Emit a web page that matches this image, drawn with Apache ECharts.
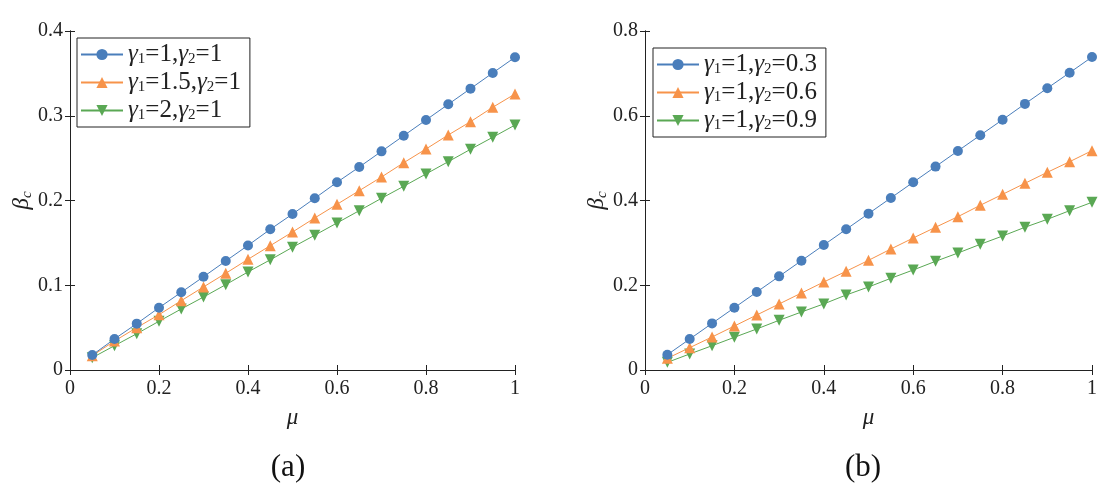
<!DOCTYPE html>
<html><head><meta charset="utf-8">
<script src="https://cdn.jsdelivr.net/npm/echarts@6/dist/echarts.min.js"></script>
<style>html,body{margin:0;padding:0;background:#fff}#c{width:1114px;height:504px}</style>
</head><body><div id="c"></div>
<script>
const mu = [0.05,0.10,0.15,0.20,0.25,0.30,0.35,0.40,0.45,0.50,0.55,0.60,0.65,0.70,0.75,0.80,0.85,0.90,0.95,1.00];
// panel (a)
const a_g1_1 = [0.0177,0.0366,0.0547,0.0735,0.0917,0.110,0.1286,0.147,0.166,0.184,0.2026,0.2215,0.2395,0.258,0.2765,0.295,0.3135,0.332,0.3505,0.369];
const a_g1_15 = [0.0169,0.0342,0.050,0.0653,0.0818,0.098,0.1141,0.1306,0.1467,0.1628,0.1794,0.1955,0.2116,0.2277,0.2446,0.2608,0.2773,0.293,0.310,0.3257];
const a_g1_2 = [0.0145,0.0287,0.0428,0.0575,0.072,0.0861,0.1007,0.1157,0.130,0.1448,0.159,0.1735,0.188,0.2026,0.2168,0.2313,0.2458,0.2604,0.2746,0.289];
// panel (b)
const b_g2_03 = [0.036,0.073,0.110,0.147,0.184,0.221,0.258,0.295,0.332,0.369,0.406,0.443,0.480,0.517,0.554,0.5907,0.628,0.665,0.7016,0.7386];
const b_g2_06 = [0.0276,0.0527,0.0779,0.1038,0.1298,0.1558,0.1817,0.2077,0.233,0.2588,0.2855,0.3115,0.3368,0.3618,0.3887,0.4146,0.4406,0.4665,0.4916,0.5176];
const b_g2_09 = [0.018,0.0378,0.0573,0.0772,0.0968,0.1173,0.1369,0.156,0.177,0.1959,0.2164,0.236,0.2565,0.276,0.2966,0.3162,0.3368,0.3556,0.376,0.3957];
const xTicks = ['0','0.2','0.4','0.6','0.8','1'];
const legendA = [['1','1'],['1.5','1'],['2','1']];
const legendB = [['1','0.3'],['1','0.6'],['1','0.9']];
const captions = ['(a)','(b)'];

const colors = ['#4a7ebb','#f7934a','#5aa854'];
const symbols = ['circle','triangle','path://M0,0 L10,0 L5,9 Z'];
const serif = 'Liberation Serif';

function lab(p){ return '{g|γ}{s|1}{n|=' + p[0] + ',}{g|γ}{s|2}{n|=' + p[1] + '}'; }
const rich = {
  g:{fontFamily:serif, fontStyle:'italic', fontSize:25, color:'#222'},
  s:{fontFamily:serif, fontSize:15, color:'#222', padding:[10,0,0,0]},
  n:{fontFamily:serif, fontSize:25, color:'#222'}
};
const zip = v => v.map((y,i)=>[mu[i],y]);

const grids = [
  {left:70, right:599, top:31, bottom:134},
  {left:645, right:22, top:31, bottom:134}
];
const yMax = [0.4, 0.8], yInt = [0.1, 0.2];
const xAxis = [], yAxis = [];
const axLine = {show:true, lineStyle:{color:'#222', width:1}};
const tick = {show:true, inside:true, length:5, lineStyle:{color:'#222'}};
const lblStyle = {fontFamily:serif, fontSize:20, color:'#222'};
[0,1].forEach(i=>{
  xAxis.push({type:'value', gridIndex:i, min:0, max:1, interval:0.2, axisLine:axLine, axisTick:tick, splitLine:{show:false},
    axisLabel:Object.assign({margin:9, formatter:v=>xTicks[Math.round(v/0.2)]}, lblStyle),
    name:'μ', nameLocation:'middle', nameGap:36, nameTextStyle:{fontFamily:serif, fontStyle:'italic', fontSize:23, color:'#222'}});
  xAxis.push({type:'value', gridIndex:i, position:'top', min:0, max:1, interval:0.2, axisLine:axLine, axisTick:tick, axisLabel:{show:false}, splitLine:{show:false}});
  yAxis.push({type:'value', gridIndex:i, min:0, max:yMax[i], interval:yInt[i], axisLine:axLine, axisTick:tick, splitLine:{show:false},
    axisLabel:Object.assign({margin:7}, lblStyle),
    name:'{b|β}{c|c}', nameLocation:'middle', nameGap:26, nameRotate:90,
    nameTextStyle:{fontFamily:serif, fontSize:23, color:'#222', rich:{
      b:{fontFamily:serif, fontStyle:'italic', fontSize:23, color:'#222'},
      c:{fontFamily:serif, fontStyle:'italic', fontSize:15, color:'#222', padding:[10,0,0,0]}}}});
  yAxis.push({type:'value', gridIndex:i, position:'right', min:0, max:yMax[i], interval:yInt[i], axisLine:axLine, axisTick:tick, axisLabel:{show:false}, splitLine:{show:false}});
});

const dataA = [a_g1_1, a_g1_15, a_g1_2], dataB = [b_g2_03, b_g2_06, b_g2_09];
const series = [];
const namesA = legendA.map(lab), namesB = legendB.map(lab);
dataA.forEach((d,k)=>series.push({name:namesA[k], type:'line', xAxisIndex:0, yAxisIndex:0, data:zip(d), symbol:symbols[k], symbolSize:k===0?10:11, showSymbol:true,
  itemStyle:{color:colors[k]}, lineStyle:{width:1, color:colors[k]}, z:3-k}));
dataB.forEach((d,k)=>series.push({name:namesB[k], type:'line', xAxisIndex:2, yAxisIndex:2, data:zip(d), symbol:symbols[k], symbolSize:k===0?10:11, showSymbol:true,
  itemStyle:{color:colors[k]}, lineStyle:{width:1, color:colors[k]}, z:3-k}));

const legendCommon = {orient:'vertical', backgroundColor:'#fff', borderColor:'#222', borderWidth:1, borderRadius:0,
  padding:[4,9,4,3], itemGap:3, itemWidth:42, itemHeight:14, textStyle:{fontFamily:serif, rich:rich}};
const chart = echarts.init(document.getElementById('c'), null, {renderer:'canvas'});
chart.setOption({
  animation:false,
  backgroundColor:'#fff',
  grid:grids,
  xAxis:xAxis, yAxis:yAxis,
  legend:[
    Object.assign({}, legendCommon, {left:77, top:38, data:namesA}),
    Object.assign({}, legendCommon, {left:653, top:48, data:namesB})
  ],
  title:[
    {text:captions[0], left:283, top:447, textAlign:'center', textStyle:{fontFamily:serif, fontWeight:'normal', fontSize:31, color:'#111'}},
    {text:captions[1], left:858, top:447, textAlign:'center', textStyle:{fontFamily:serif, fontWeight:'normal', fontSize:31, color:'#111'}}
  ],
  series:series
});
</script></body></html>
